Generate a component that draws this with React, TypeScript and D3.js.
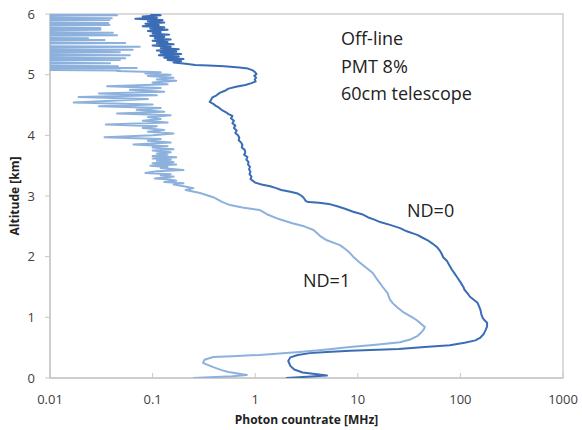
import React from 'react';
import * as d3 from 'd3';

// [photon countrate MHz, altitude km] from top to bottom
const nd0: [number, number][] = [
  [0.095, 6.0], [0.12, 5.98], [0.08, 5.96], [0.11, 5.94], [0.068, 5.92], [0.125, 5.9],
  [0.09, 5.88], [0.13, 5.86], [0.085, 5.84], [0.115, 5.82], [0.08, 5.8], [0.13, 5.78],
  [0.095, 5.76], [0.14, 5.74], [0.09, 5.72], [0.12, 5.7], [0.1, 5.68], [0.145, 5.66],
  [0.095, 5.64], [0.13, 5.62], [0.105, 5.6], [0.15, 5.58], [0.1, 5.56], [0.14, 5.54],
  [0.11, 5.52], [0.16, 5.5], [0.1, 5.48], [0.15, 5.46], [0.12, 5.44], [0.18, 5.42],
  [0.11, 5.4], [0.17, 5.38], [0.12, 5.36], [0.19, 5.34], [0.115, 5.32], [0.18, 5.3],
  [0.13, 5.28], [0.2, 5.26], [0.14, 5.24], [0.19, 5.22], [0.16, 5.2], [0.21, 5.18],
  [0.26, 5.16], [0.35, 5.15], [0.5, 5.14], [0.7, 5.12], [0.85, 5.1], [0.95, 5.07],
  [1.0, 5.04], [1.03, 5.01], [0.98, 4.98], [1.02, 4.95], [0.99, 4.92], [1.01, 4.89],
  [0.92, 4.86], [0.8, 4.83], [0.65, 4.8], [0.55, 4.77], [0.5, 4.73], [0.45, 4.7],
  [0.42, 4.66], [0.38, 4.62], [0.37, 4.58], [0.36, 4.55], [0.39, 4.52], [0.41, 4.49],
  [0.44, 4.46], [0.47, 4.42], [0.52, 4.38], [0.55, 4.35], [0.6, 4.32], [0.58, 4.28],
  [0.62, 4.24], [0.6, 4.2], [0.64, 4.16], [0.62, 4.12], [0.66, 4.08], [0.64, 4.04],
  [0.68, 4.0], [0.7, 3.96], [0.69, 3.92], [0.73, 3.88], [0.75, 3.84], [0.74, 3.8],
  [0.79, 3.76], [0.8, 3.72], [0.78, 3.68], [0.84, 3.64], [0.82, 3.6], [0.86, 3.56],
  [0.85, 3.52], [0.89, 3.48], [0.87, 3.44], [0.9, 3.4], [0.88, 3.36], [0.92, 3.32],
  [0.9, 3.28], [0.95, 3.25], [1.0, 3.22], [1.15, 3.19], [1.4, 3.16], [1.6, 3.13],
  [1.8, 3.1], [2.2, 3.07], [2.6, 3.04], [2.85, 3.0], [3.0, 2.96], [3.1, 2.92],
  [3.3, 2.9], [4.2, 2.89], [5.2, 2.87], [6.3, 2.83], [7.5, 2.79], [9.0, 2.74],
  [11, 2.7], [12.5, 2.65], [14.5, 2.61], [16.5, 2.57], [21, 2.52], [25.8, 2.47],
  [29, 2.43], [31, 2.41], [35, 2.38], [38, 2.36], [42, 2.32], [48, 2.27],
  [53, 2.22], [59, 2.16], [63, 2.1], [66, 2.04], [68, 1.99], [74, 1.93],
  [78, 1.86], [83, 1.78], [88, 1.72], [93, 1.66], [100, 1.58], [107, 1.5],
  [110, 1.45], [117, 1.4], [124, 1.34], [135, 1.29], [147, 1.24], [152, 1.18],
  [157, 1.12], [160, 1.05], [165, 0.99], [170, 0.96], [182, 0.91], [182, 0.85],
  [176, 0.79], [168, 0.72], [155, 0.66], [140, 0.62], [110, 0.58], [79, 0.54],
  [45, 0.51], [25, 0.48], [8.4, 0.45], [5, 0.43], [3.4, 0.41], [2.6, 0.38],
  [2.2, 0.34], [2.1, 0.28], [2.2, 0.2], [2.4, 0.14], [2.9, 0.09], [4.0, 0.06],
  [5.0, 0.04], [3.2, 0.02], [2.0, 0.0],
];

const nd1: [number, number][] = [
  // noisy top: horizontal spikes out of the (clipped) background below 0.01
  [0.045, 6.0], [0.006, 5.99], [0.045, 5.98], [0.006, 5.97],
  [0.006, 5.94], [0.04, 5.93], [0.006, 5.92],
  [0.038, 5.9], [0.006, 5.89], [0.006, 5.86], [0.037, 5.85], [0.006, 5.84],
  [0.038, 5.82], [0.006, 5.81], [0.006, 5.78], [0.031, 5.77], [0.006, 5.76],
  [0.031, 5.74], [0.006, 5.73], [0.006, 5.7], [0.041, 5.69], [0.006, 5.68],
  [0.045, 5.65], [0.006, 5.64], [0.006, 5.61], [0.0235, 5.6], [0.006, 5.59],
  [0.034, 5.57], [0.006, 5.56], [0.006, 5.53], [0.054, 5.52], [0.006, 5.51],
  [0.006, 5.47], [0.075, 5.46], [0.006, 5.45], [0.006, 5.42], [0.064, 5.41], [0.006, 5.4],
  [0.048, 5.37], [0.006, 5.36], [0.006, 5.33], [0.06, 5.32], [0.006, 5.31],
  [0.006, 5.28], [0.054, 5.27], [0.006, 5.26], [0.048, 5.24], [0.006, 5.23],
  [0.006, 5.2], [0.0385, 5.19], [0.006, 5.18], [0.006, 5.15], [0.046, 5.14], [0.006, 5.13],
  [0.07, 5.11], [0.006, 5.1], [0.006, 5.08], [0.048, 5.07], [0.045, 5.06],
  // noisy band 3.2 - 5 km
  [0.12, 5.04], [0.085, 5.02], [0.15, 5.0], [0.09, 4.98], [0.16, 4.95], [0.11, 4.92],
  [0.17, 4.9], [0.1, 4.87], [0.14, 4.84], [0.036, 4.81], [0.12, 4.78], [0.06, 4.75],
  [0.13, 4.72], [0.03, 4.69], [0.11, 4.66], [0.019, 4.63], [0.09, 4.6], [0.04, 4.57],
  [0.017, 4.54], [0.1, 4.51], [0.03, 4.48], [0.12, 4.45], [0.07, 4.42], [0.13, 4.39],
  [0.045, 4.36], [0.15, 4.33], [0.09, 4.3], [0.12, 4.27], [0.08, 4.24], [0.14, 4.21],
  [0.035, 4.18], [0.11, 4.15], [0.08, 4.12], [0.13, 4.09], [0.09, 4.06], [0.16, 4.03],
  [0.1, 4.0], [0.034, 3.97], [0.12, 3.94], [0.09, 3.91], [0.15, 3.88], [0.065, 3.85],
  [0.14, 3.82], [0.1, 3.8], [0.16, 3.77], [0.1, 3.75], [0.15, 3.72], [0.11, 3.7],
  [0.14, 3.68], [0.1, 3.66], [0.17, 3.64], [0.1, 3.62], [0.15, 3.6], [0.11, 3.58],
  [0.16, 3.56], [0.1, 3.54], [0.17, 3.52], [0.095, 3.5], [0.14, 3.48], [0.12, 3.46],
  [0.2, 3.43], [0.11, 3.41], [0.085, 3.38], [0.15, 3.36], [0.12, 3.34], [0.16, 3.32],
  [0.105, 3.29], [0.15, 3.27], [0.17, 3.25], [0.13, 3.23], [0.2, 3.21], [0.16, 3.19],
  [0.2, 3.16], [0.25, 3.13],
  // smooth part
  [0.21, 3.1], [0.29, 3.05], [0.39, 2.98], [0.48, 2.9], [0.57, 2.85], [0.75, 2.81],
  [1.1, 2.77], [1.3, 2.7], [1.7, 2.62], [2.3, 2.55], [3.0, 2.5], [3.7, 2.44],
  [4.3, 2.34], [5.0, 2.27], [6.7, 2.19], [7.5, 2.13], [8.4, 2.06], [9.0, 2.0],
  [10.5, 1.9], [12, 1.82], [14, 1.73], [15.5, 1.62], [17.5, 1.5], [19.5, 1.4],
  [20.6, 1.29], [22, 1.23], [24, 1.17], [28, 1.08], [34, 1.0], [37, 0.96],
  [41, 0.9], [45, 0.84], [44, 0.8], [41, 0.74], [38, 0.69], [33, 0.64],
  [25.8, 0.59], [15, 0.55], [8.4, 0.51], [5, 0.47], [2.7, 0.43], [1.1, 0.38],
  [0.6, 0.36], [0.39, 0.345], [0.32, 0.3], [0.31, 0.25], [0.34, 0.22], [0.39, 0.18],
  [0.47, 0.13], [0.55, 0.1], [0.7, 0.07], [0.83, 0.05], [0.6, 0.03], [0.25, 0.0],
];

const xTicks = [0.01, 0.1, 1, 10, 100, 1000];
const xTickLabels = ['0.01', '0.1', '1', '10', '100', '1000'];
const yTicks = [0, 1, 2, 3, 4, 5, 6];
const infoLines = ['Off-line', 'PMT 8%', '60cm telescope'];

const W = 582;
const H = 430;
const margin = { top: 14, right: 19, bottom: 52, left: 50 };
const font = "'Open Sans', sans-serif";

export default function App() {
  const innerW = W - margin.left - margin.right;
  const innerH = H - margin.top - margin.bottom;

  const x = d3.scaleLog().domain([0.01, 1000]).range([0, innerW]);
  const y = d3.scaleLinear().domain([0, 6]).range([innerH, 0]);

  const line = d3.line<[number, number]>()
    .x(d => x(Math.max(d[0], 0.001)))
    .y(d => y(d[1]));

  return (
    <svg
      width={W}
      height={H}
      style={{ position: 'absolute', left: 0, top: 0, background: '#fff', fontFamily: font }}
    >
      <defs>
        <clipPath id="plot-clip">
          <rect x={0} y={0} width={innerW} height={innerH} />
        </clipPath>
      </defs>
      <g transform={`translate(${margin.left},${margin.top})`}>
        {/* frame */}
        <rect x={0} y={0} width={innerW} height={innerH} fill="none" stroke="#d0d0d0" strokeWidth={1.5} />
        <line x1={0} x2={0} y1={0} y2={innerH} stroke="#c8c8c8" strokeWidth={1.5} />
        <line x1={0} x2={innerW} y1={innerH} y2={innerH} stroke="#c8c8c8" strokeWidth={1.5} />

        {/* y ticks */}
        {yTicks.map(t => (
          <g key={`y${t}`} transform={`translate(0,${y(t)})`}>
            <line x1={-5} x2={0} stroke="#c8c8c8" />
            <text x={-15} dy="0.35em" textAnchor="end" fontSize={13} fill="#404040">{t}</text>
          </g>
        ))}

        {/* x ticks */}
        {xTicks.map((t, i) => (
          <g key={`x${t}`} transform={`translate(${x(t)},${innerH})`}>
            <line y1={-5} y2={0} stroke="#c8c8c8" />
            <text y={26} textAnchor="middle" fontSize={13} fill="#404040">{xTickLabels[i]}</text>
          </g>
        ))}

        <g clipPath="url(#plot-clip)">
          <path d={line(nd1) || ''} fill="none" stroke="#8db1dd" strokeWidth={2} strokeLinejoin="round" />
          <path d={line(nd0) || ''} fill="none" stroke="#3a6db5" strokeWidth={2} strokeLinejoin="round" />
        </g>

        <text x={357} y={203} fontSize={18} fill="#222">ND=0</text>
        <text x={253} y={273} fontSize={18} fill="#222">ND=1</text>

        {infoLines.map((s, i) => (
          <text key={s} x={291} y={31 + i * 27.5} fontSize={18} fill="#222">{s}</text>
        ))}
      </g>

      <text
        transform={`translate(19,${margin.top + innerH / 2}) rotate(-90)`}
        textAnchor="middle"
        fontSize={12}
        fontWeight="bold"
        fill="#222"
      >
        Altitude [km]
      </text>
      <text x={margin.left + innerW / 2} y={424} textAnchor="middle" fontSize={12} fontWeight="bold" fill="#222">
        Photon countrate [MHz]
      </text>
    </svg>
  );
}
